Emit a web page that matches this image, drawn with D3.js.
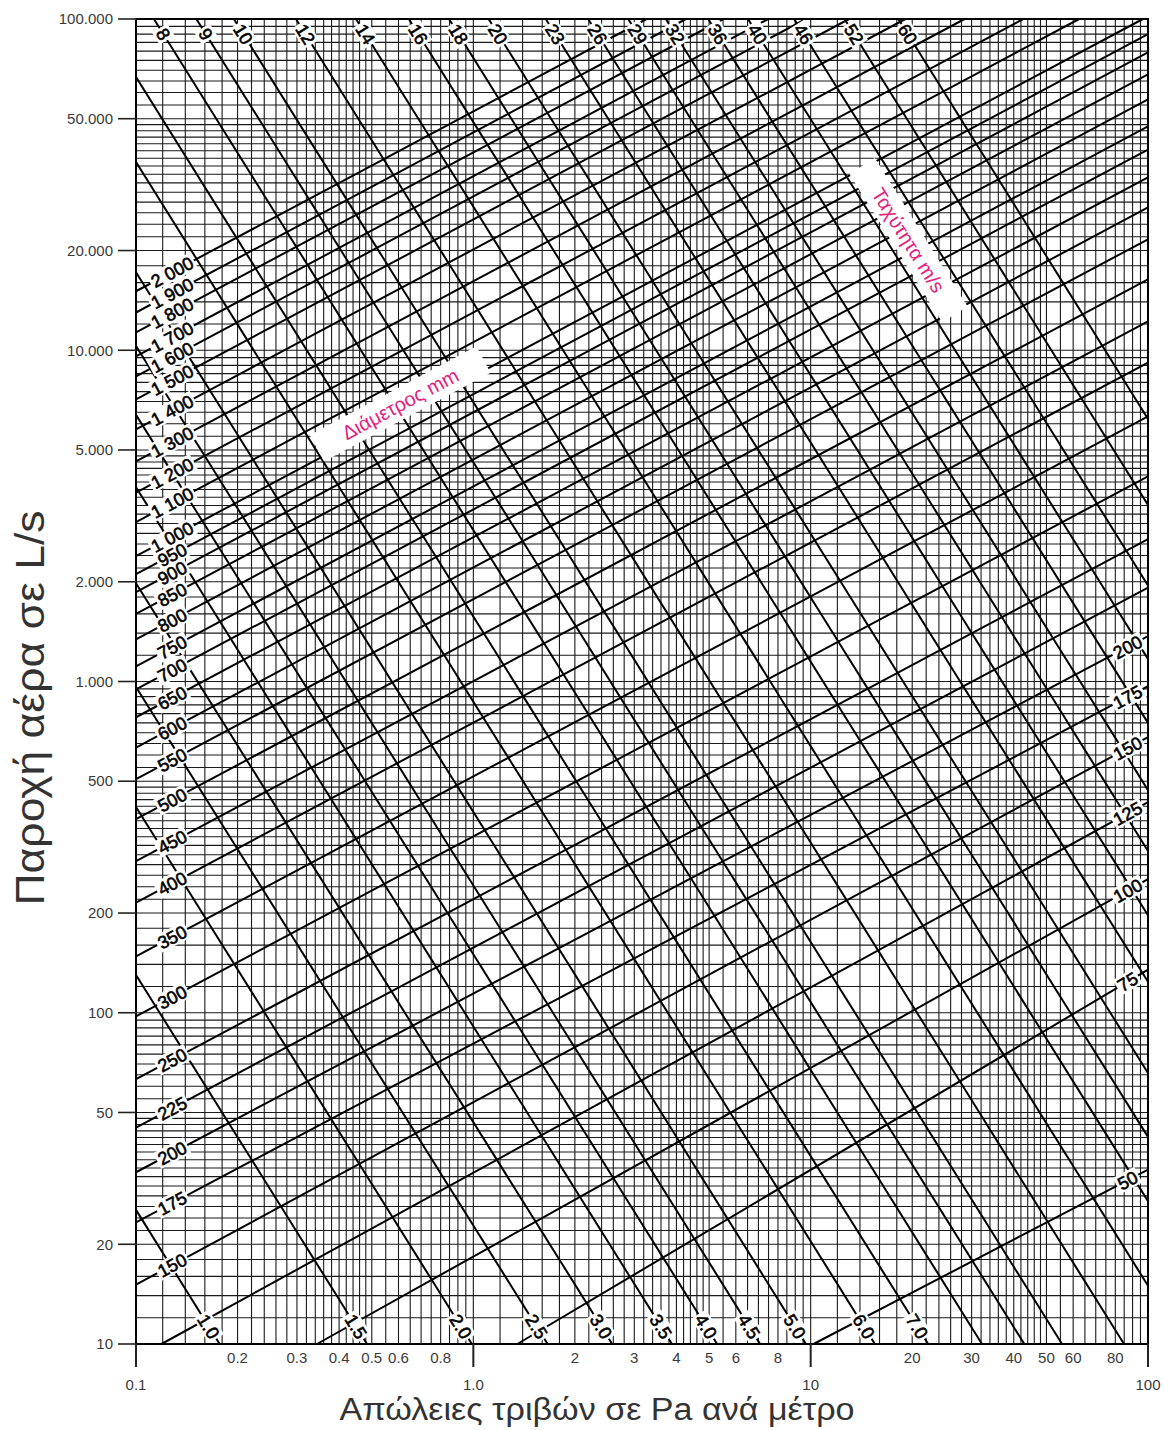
<!DOCTYPE html>
<html>
<head>
<meta charset="utf-8">
<script src="https://cdn.jsdelivr.net/npm/d3@7"></script>
<style>
  body { margin: 0; background: #fff; }
  text { font-family: "Liberation Sans", Arial, Helvetica, sans-serif; }
</style>
</head>
<body>
<script>
// grid subdivisions inside one decade
var gridMult = [1, 1.2, 1.4, 1.6, 1.8, 2, 2.2, 2.4, 2.6, 2.8, 3, 3.2, 3.4, 3.6, 3.8, 4,
    4.2, 4.4, 4.6, 4.8, 5, 5.5, 6, 6.5, 7, 7.5, 8, 8.5, 9, 9.5];
var xDecades = [0.1, 1, 10];
var yDecades = [10, 100, 1000, 10000];

// axis ticks
var yTicks = [100000, 50000, 20000, 10000, 5000, 2000, 1000, 500, 200, 100, 50, 20, 10];
var yTickLabels = ["100.000", "50.000", "20.000", "10.000", "5.000", "2.000", "1.000",
    "500", "200", "100", "50", "20", "10"];
var xMinorTicks = [0.2, 0.3, 0.4, 0.5, 0.6, 0.8, 2, 3, 4, 5, 6, 8, 20, 30, 40, 50, 60, 80];
var xMinorLabels = ["0.2", "0.3", "0.4", "0.5", "0.6", "0.8", "2", "3", "4", "5", "6", "8",
    "20", "30", "40", "50", "60", "80"];
var xMajorTicks = [0.1, 1, 10, 100];
var xMajorLabels = ["0.1", "1.0", "10", "100"];

// duct diameter lines (mm): [Pa/m, L/s] where each line enters and leaves the chart
var diamLabels = ["2 000", "1 900", "1 800", "1 700", "1 600", "1 500", "1 400", "1 300",
    "1 200", "1 100", "1 000", "950", "900", "850", "800", "750", "700", "650", "600",
    "550", "500", "450", "400", "350", "300", "250", "225", "200", "175", "150",
    "125", "100", "75", "50"];
var diamFrom = [[0.1, 15070], [0.1, 13000], [0.1, 11330], [0.1, 9590], [0.1, 8340],
    [0.1, 7110], [0.1, 5770], [0.1, 4620], [0.1, 3720], [0.1, 3030], [0.1, 2390],
    [0.1, 2110], [0.1, 1860], [0.1, 1600], [0.1, 1340], [0.1, 1110], [0.1, 946],
    [0.1, 780], [0.1, 632], [0.1, 507], [0.1, 384], [0.1, 287], [0.1, 215], [0.1, 148],
    [0.1, 97.5], [0.1, 63], [0.1, 45], [0.1, 33], [0.1, 23.3], [0.1, 15.1],
    [0.119, 10], [0.344, 10], [1.35, 10], [10.2, 10]];
var diamTo = [[3.26, 100000], [4.27, 100000], [5.51, 100000], [7.48, 100000],
    [9.68, 100000], [13.0, 100000], [19.1, 100000], [28.6, 100000], [42.7, 100000],
    [62.5, 100000], [96.6, 100000], [100, 89950], [100, 79250], [100, 68080],
    [100, 57150], [100, 47420], [100, 40360], [100, 33270], [100, 26980], [100, 21630],
    [100, 16370], [100, 12220], [100, 9180], [100, 6310], [100, 4160], [100, 2690],
    [100, 1920], [100, 1370], [100, 968], [100, 679], [100, 432], [100, 253],
    [100, 135], [100, 33.6]];
var diamRightLabels = ["200", "175", "150", "125", "100", "75", "50"];

// air velocity lines (m/s): [Pa/m, L/s] where each line enters and leaves the chart
var velLabels = ["1.0", "1.5", "2.0", "2.5", "3.0", "3.5", "4.0", "4.5", "5.0", "6.0", "7.0",
    "8", "9", "10", "12", "14", "16", "18", "20", "23", "26", "29", "32", "36", "40",
    "46", "52", "60"];
var velFrom = [[0.1, 25.4], [0.1, 130], [0.1, 418], [0.1, 962], [0.1, 1980], [0.1, 3860],
    [0.1, 6380], [0.1, 10300], [0.1, 17200], [0.1, 37000], [0.1, 66800],
    [0.113, 100000], [0.151, 100000], [0.195, 100000], [0.298, 100000], [0.449, 100000],
    [0.644, 100000], [0.847, 100000], [1.11, 100000], [1.64, 100000], [2.19, 100000],
    [2.88, 100000], [3.72, 100000], [4.97, 100000], [6.52, 100000], [8.93, 100000],
    [12.6, 100000], [18.2, 100000]];
var velTo = [[0.177, 10], [0.484, 10], [0.99, 10], [1.66, 10], [2.58, 10], [3.88, 10],
    [5.28, 10], [7.08, 10], [9.68, 10], [15.5, 10], [22.3, 10],
    [32.2, 10], [43.0, 10], [55.6, 10], [84.9, 10], [100, 15.0], [100, 27.0],
    [100, 42.2], [100, 65.8], [100, 124], [100, 197], [100, 308], [100, 470],
    [100, 750], [100, 1170], [100, 1950], [100, 3410], [100, 6200]];

var width = 1164,
    height = 1430;

var svg = d3.select("body").append("svg")
    .attr("width", width)
    .attr("height", height);

var x = d3.scaleLog().domain([0.1, 100]).range([136, 1148]);
var y = d3.scaleLog().domain([10, 100000]).range([1344, 19]);

// log-space helpers to find a point on a straight line of the chart
function qAt(a, b, p) {
    var t = (Math.log(p) - Math.log(a[0])) / (Math.log(b[0]) - Math.log(a[0]));
    return Math.exp(Math.log(a[1]) + t * (Math.log(b[1]) - Math.log(a[1])));
}
function pAt(a, b, q) {
    var t = (Math.log(q) - Math.log(a[1])) / (Math.log(b[1]) - Math.log(a[1]));
    return Math.exp(Math.log(a[0]) + t * (Math.log(b[0]) - Math.log(a[0])));
}

//grid
var xGrid = [], yGrid = [];
xDecades.forEach(function (d) { gridMult.forEach(function (m) { xGrid.push(d * m); }); });
yDecades.forEach(function (d) { gridMult.forEach(function (m) { yGrid.push(d * m); }); });

var grid = svg.append("g");
grid.selectAll(".vg").data(xGrid).join("line")
    .attr("x1", d => x(d)).attr("x2", d => x(d))
    .attr("y1", y(100000)).attr("y2", y(10))
    .attr("stroke", "#1a1a1a")
    .attr("stroke-width", 1.1);
grid.selectAll(".hg").data(yGrid).join("line")
    .attr("x1", x(0.1)).attr("x2", x(100))
    .attr("y1", d => y(d)).attr("y2", d => y(d))
    .attr("stroke", "#1a1a1a")
    .attr("stroke-width", 1.1);

//diameter and velocity lines
var lines = svg.append("g");
diamLabels.forEach(function (lab, i) {
    lines.append("line")
        .attr("x1", x(diamFrom[i][0])).attr("y1", y(diamFrom[i][1]))
        .attr("x2", x(diamTo[i][0])).attr("y2", y(diamTo[i][1]))
        .attr("stroke", "#000").attr("stroke-width", 2);
});
velLabels.forEach(function (lab, i) {
    lines.append("line")
        .attr("x1", x(velFrom[i][0])).attr("y1", y(velFrom[i][1]))
        .attr("x2", x(velTo[i][0])).attr("y2", y(velTo[i][1]))
        .attr("stroke", "#000").attr("stroke-width", 2);
});

//labels sitting on a line, in a white box
var labels = svg.append("g");
function lineLabel(txt, px, py, angle, size, color, padX, padY, strokeW) {
    var g = labels.append("g")
        .attr("transform", "translate(" + px + "," + py + ") rotate(" + angle + ")");
    var rect = g.append("rect").attr("fill", "#fff");
    var t = g.append("text")
        .attr("text-anchor", "middle")
        .attr("dy", "0.36em")
        .attr("font-size", size)
        .attr("fill", color)
        .attr("stroke", color)
        .attr("stroke-width", strokeW)
        .text(txt);
    var w = t.node().getComputedTextLength();
    rect.attr("x", -w / 2 - padX).attr("y", -size * 0.55 - padY)
        .attr("width", w + 2 * padX).attr("height", size * 1.1 + 2 * padY);
}
function angleOf(a, b) {
    return Math.atan2(y(b[1]) - y(a[1]), x(b[0]) - x(a[0])) * 180 / Math.PI;
}

diamLabels.forEach(function (lab, i) {
    var a = diamFrom[i], b = diamTo[i], ang = angleOf(a, b);
    if (a[0] === 0.1) {
        var p = 0.128;
        lineLabel(lab, x(p), y(qAt(a, b, p)), ang, 18, "#000", 2, -1, 0.6);
    }
    if (diamRightLabels.indexOf(lab) >= 0) {
        var p2 = 87;
        lineLabel(lab, x(p2), y(qAt(a, b, p2)), ang, 18, "#000", 2, -1, 0.6);
    }
});
velLabels.forEach(function (lab, i) {
    var a = velFrom[i], b = velTo[i], ang = angleOf(a, b);
    var q = a[1] === 100000 ? 90000 : 11.3;
    lineLabel(lab, x(pAt(a, b, q)), y(q), ang, 18, "#000", 2, -1, 0.6);
});

// pink annotations
lineLabel("Διάμετρος mm", x(0.607), y(6890), angleOf(diamFrom[0], diamTo[0]), 20, "#e5207e", 30, 4, 0);
lineLabel("Ταχύτητα m/s", x(19.5), y(21500), angleOf(velFrom[11], velTo[11]), 20, "#e5207e", 28, 4, 0);

//frame
var frame = svg.append("g");
frame.append("rect")
    .attr("x", x(0.1)).attr("y", y(100000))
    .attr("width", x(100) - x(0.1)).attr("height", y(10) - y(100000))
    .attr("fill", "none").attr("stroke", "#000").attr("stroke-width", 2);

//y axis ticks
frame.selectAll(".yt").data(yTicks).join("line")
    .attr("x1", 118).attr("x2", x(0.1))
    .attr("y1", d => y(d)).attr("y2", d => y(d))
    .attr("stroke", "#222").attr("stroke-width", 1.6);
frame.selectAll(".ytl").data(yTicks).join("text")
    .attr("x", 113)
    .attr("y", d => y(d))
    .attr("dy", "0.35em")
    .attr("text-anchor", "end")
    .attr("font-size", 15)
    .attr("fill", "#3a3a3a")
    .text((d, i) => yTickLabels[i]);

//x axis ticks
frame.selectAll(".xt").data(xMajorTicks).join("line")
    .attr("x1", d => x(d)).attr("x2", d => x(d))
    .attr("y1", y(10)).attr("y2", 1367)
    .attr("stroke", "#222").attr("stroke-width", 2);
frame.selectAll(".xtl").data(xMajorTicks).join("text")
    .attr("x", d => x(d))
    .attr("y", 1385)
    .attr("dy", "0.35em")
    .attr("text-anchor", "middle")
    .attr("font-size", 15)
    .attr("fill", "#3a3a3a")
    .text((d, i) => xMajorLabels[i]);
frame.selectAll(".xml").data(xMinorTicks).join("text")
    .attr("x", d => x(d))
    .attr("y", 1358)
    .attr("dy", "0.35em")
    .attr("text-anchor", "middle")
    .attr("font-size", 15)
    .attr("fill", "#3a3a3a")
    .text((d, i) => xMinorLabels[i]);

//axis titles
svg.append("text")
    .attr("x", 597).attr("y", 1420)
    .attr("text-anchor", "middle")
    .attr("font-size", 31)
    .attr("textLength", 515)
    .attr("lengthAdjust", "spacingAndGlyphs")
    .attr("fill", "#333")
    .text("Απώλειες τριβών σε Pa ανά μέτρο");
svg.append("text")
    .attr("transform", "translate(44,708) rotate(-90)")
    .attr("text-anchor", "middle")
    .attr("font-size", 40)
    .attr("textLength", 395)
    .attr("lengthAdjust", "spacingAndGlyphs")
    .attr("fill", "#333")
    .text("Παροχή αέρα σε L/s");
</script>
</body>
</html>
